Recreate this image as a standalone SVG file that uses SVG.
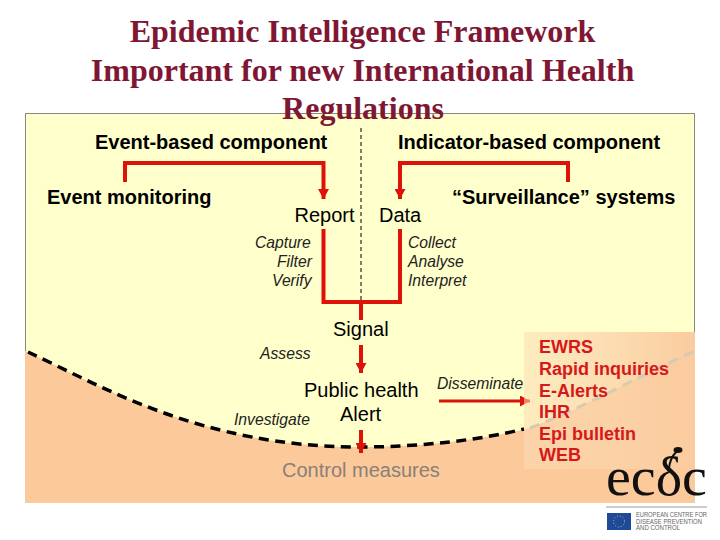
<svg xmlns="http://www.w3.org/2000/svg" width="720" height="540" viewBox="0 0 720 540">
<style>
.t{font-family:"Liberation Serif","Times New Roman",serif;font-weight:bold;font-size:32px;fill:#7f1734;text-anchor:middle}
.b{font-family:"Liberation Sans",Arial,sans-serif;font-weight:bold;font-size:20px;fill:#000}
.r{font-family:"Liberation Sans",Arial,sans-serif;font-size:20px;fill:#000}
.i{font-family:"Liberation Sans",Arial,sans-serif;font-style:italic;font-size:15.700px;fill:#222}
.e{font-family:"Liberation Sans",Arial,sans-serif;font-weight:bold;font-size:18px;fill:#d6181a}
.red{fill:none;stroke:#dd1208;stroke-width:4}
.s{font-family:"Liberation Sans",Arial,sans-serif;font-size:6.500px;fill:#666}
</style>
<defs>
<marker id="ah" markerUnits="userSpaceOnUse" markerWidth="11" markerHeight="11" refX="10" refY="5.500" orient="auto"><path d="M0 0L10 5.500L0 11Z" fill="#dd1208"/></marker>
<linearGradient id="g" x1="0" y1="0" x2="1" y2="0"><stop offset="0" stop-color="#fcdcb4" stop-opacity=".55"/><stop offset="1" stop-color="#facb9e"/></linearGradient>
</defs>
<g id="background">
<rect x="25.500" y="113.500" width="669" height="389" fill="#ffffcc" stroke="#888" stroke-width="1"/>
<path d="M25 351C100 385 200 447 360 447C420 447 480 440 530 428C590 405 640 375 695 351V503H25Z" fill="#fcc99a"/>
<path d="M28 352C100 385 200 447 360 447C420 447 480 440 524 429" fill="none" stroke="#000" stroke-width="3.500" stroke-dasharray="10 6.500"/>
<line x1="361" y1="128" x2="361" y2="302" stroke="#000" stroke-width="1" stroke-dasharray="4 3"/>
</g>
<g id="title">
<text class="t" x="362.500" y="42">Epidemic Intelligence Framework</text>
<text class="t" x="362.500" y="81">Important for new International Health</text>
<text class="t" x="363" y="119">Regulations</text>
</g>
<g id="connectors">
<path class="red" d="M125 182V163H323.500V199" marker-end="url(#ah)"/>
<path class="red" d="M568 182V163H400V199" marker-end="url(#ah)"/>
<path class="red" d="M323.500 229V302H400V229"/>
<path class="red" d="M361 302V320"/>
<path class="red" d="M361 345V373" marker-end="url(#ah)"/>
<path class="red" d="M361 430V453" marker-end="url(#ah)"/>
<path class="red" d="M439 401H530" style="stroke-width:3" marker-end="url(#ah)"/>
</g>
<g id="node-event-based"><text class="b" x="95" y="149">Event-based component</text></g>
<g id="node-indicator-based"><text class="b" x="398" y="149">Indicator-based component</text></g>
<g id="node-event-monitoring"><text class="b" x="47" y="204">Event monitoring</text></g>
<g id="node-surveillance"><text class="b" x="452" y="204">“Surveillance” systems</text></g>
<g id="node-report"><text class="r" x="294.500" y="222">Report</text></g>
<g id="node-data"><text class="r" x="379" y="222">Data</text></g>
<g id="node-left-steps">
<text class="i" x="255" y="248">Capture</text>
<text class="i" x="277" y="267">Filter</text>
<text class="i" x="272" y="286">Verify</text>
</g>
<g id="node-right-steps">
<text class="i" x="408" y="248">Collect</text>
<text class="i" x="408" y="267">Analyse</text>
<text class="i" x="408" y="286">Interpret</text>
</g>
<g id="node-signal"><text class="r" x="333" y="336">Signal</text></g>
<g id="node-assess"><text class="i" x="260" y="359">Assess</text></g>
<g id="node-public-health"><text class="r" x="304" y="397">Public health</text><text class="r" x="340" y="421">Alert</text></g>
<g id="node-investigate"><text class="i" x="234" y="425">Investigate</text></g>
<g id="node-disseminate"><text class="i" x="437" y="389">Disseminate</text></g>
<g id="node-control"><text class="r" x="282" y="477" style="fill:#8a8078">Control measures</text></g>
<g id="node-channels">
<rect x="524" y="332" width="171" height="137" fill="url(#g)"/>
<path d="M530 428C590 405 640 375 695 351" fill="none" stroke="#d6cab0" stroke-width="3" stroke-dasharray="10 7"/>
<text class="e" x="539" y="353">EWRS</text>
<text class="e" x="539" y="375">Rapid inquiries</text>
<text class="e" x="539" y="397">E-Alerts</text>
<text class="e" x="539" y="418">IHR</text>
<text class="e" x="539" y="440">Epi bulletin</text>
<text class="e" x="539" y="461">WEB</text>
</g>
<g id="logo">
<text x="606" y="495" font-family="'Liberation Serif',serif" font-size="54" fill="#111" textLength="101" lengthAdjust="spacingAndGlyphs">ecδc</text>
<path d="M677 451C672 456 669 462 669 470" fill="none" stroke="#111" stroke-width="2"/>
<ellipse cx="678" cy="450" rx="4.500" ry="3" fill="#111"/>
<line x1="606" y1="507" x2="707" y2="507" stroke="#999" stroke-width="1"/>
<rect x="607" y="513" width="24" height="17" fill="#1f4a9c"/>
<circle cx="619" cy="521.500" r="5.500" fill="none" stroke="#c8bc58" stroke-width="1" stroke-dasharray="1 1.900"/>
<text class="s" x="636" y="516.500" textLength="71" lengthAdjust="spacingAndGlyphs">EUROPEAN CENTRE FOR</text>
<text class="s" x="636" y="523.500" textLength="66" lengthAdjust="spacingAndGlyphs">DISEASE PREVENTION</text>
<text class="s" x="636" y="530" textLength="44" lengthAdjust="spacingAndGlyphs">AND CONTROL</text>
</g>
</svg>
